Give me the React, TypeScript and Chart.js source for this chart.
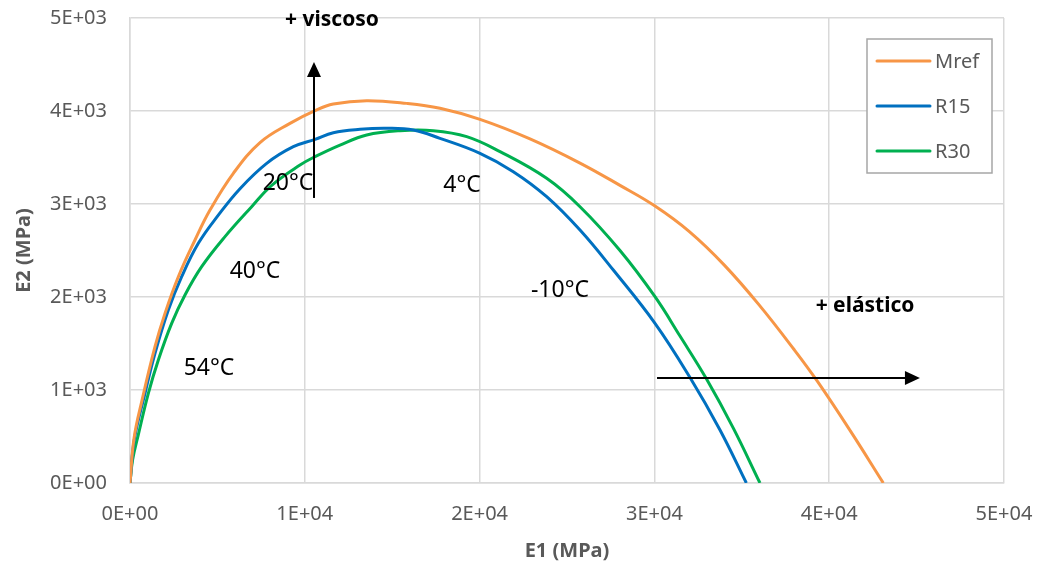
import React, { useEffect, useRef } from 'react';
import { Chart, registerables } from 'chart.js';

Chart.register(...registerables);

// Storage modulus E1 vs loss modulus E2 (MPa) for each mix
const mrefE1 = [0, 230, 700, 1430, 2002, 2765, 3719, 4577, 5912, 7437, 9153, 10584, 11632, 13539, 15829, 17735, 20023, 22883, 25744, 28032, 30034, 32000, 34000, 36000, 38000, 39300, 41200, 43095];
const mrefE2 = [0, 480, 900, 1466, 1824, 2218, 2613, 2935, 3330, 3660, 3867, 4004, 4075, 4111, 4082, 4029, 3910, 3700, 3440, 3200, 2978, 2703, 2343, 1913, 1433, 1100, 563, 0];

const r15E1 = [0, 250, 858, 1430, 2193, 2956, 3909, 5053, 6293, 7819, 9344, 10584, 11632, 13158, 14683, 16209, 17735, 20023, 21929, 23836, 25744, 27650, 30034, 32037, 33753, 35260];
const r15E2 = [0, 470, 964, 1394, 1860, 2218, 2577, 2880, 3165, 3437, 3616, 3695, 3767, 3803, 3814, 3796, 3706, 3545, 3348, 3079, 2720, 2290, 1717, 1134, 570, 0];

const r30E1 = [0, 150, 477, 1049, 1621, 2384, 3146, 4100, 5435, 6960, 8105, 9725, 10584, 12014, 13539, 15446, 17353, 19262, 21167, 23836, 25744, 28032, 30034, 31464, 32992, 34514, 36040];
const r30E2 = [0, 250, 520, 964, 1323, 1717, 2022, 2326, 2649, 2971, 3200, 3419, 3509, 3634, 3742, 3788, 3788, 3724, 3563, 3276, 2971, 2500, 2003, 1580, 1115, 590, 0];

const seriesNames = ['Mref', 'R15', 'R30'];
const seriesColors = ['#F79646', '#0070C0', '#00B050'];

const xTickLabels = ['0E+00', '1E+04', '2E+04', '3E+04', '4E+04', '5E+04'];
const yTickLabels = ['0E+00', '1E+03', '2E+03', '3E+03', '4E+03', '5E+03'];

// Temperature labels placed in data coordinates
const tempLabels = ['20°C', '4°C', '40°C', '-10°C', '54°C'];
const tempLabelE1 = [9039, 18993, 7151, 24600, 4519];
const tempLabelE2 = [3226, 3204, 2280, 2075, 1237];

const FONT = '"Noto Sans", "DejaVu Sans", sans-serif';
const GREY = '#595959';

const toPoints = (xs: number[], ys: number[]) => xs.map((x, i) => ({ x, y: ys[i] }));

const annotations = {
  id: 'annotations',
  afterDatasetsDraw(chart: any) {
    const { ctx, scales } = chart;
    const sx = scales.x;
    const sy = scales.y;
    ctx.save();

    // temperature labels
    ctx.fillStyle = '#000';
    ctx.font = `23px ${FONT}`;
    ctx.textAlign = 'center';
    ctx.textBaseline = 'middle';
    tempLabels.forEach((t, i) => {
      ctx.fillText(t, sx.getPixelForValue(tempLabelE1[i]), sy.getPixelForValue(tempLabelE2[i]));
    });

    // viscous arrow (upwards)
    const vx = sx.getPixelForValue(10526);
    const vy0 = sy.getPixelForValue(3065);
    const vy1 = sy.getPixelForValue(4527);
    ctx.strokeStyle = '#000';
    ctx.lineWidth = 2;
    ctx.beginPath();
    ctx.moveTo(vx, vy0);
    ctx.lineTo(vx, vy1 + 10);
    ctx.stroke();
    ctx.beginPath();
    ctx.moveTo(vx, vy1);
    ctx.lineTo(vx - 7, vy1 + 15);
    ctx.lineTo(vx + 7, vy1 + 15);
    ctx.closePath();
    ctx.fillStyle = '#000';
    ctx.fill();

    // elastic arrow (rightwards)
    const hy = sy.getPixelForValue(1129);
    const hx0 = sx.getPixelForValue(30150);
    const hx1 = sx.getPixelForValue(45190);
    ctx.beginPath();
    ctx.moveTo(hx0, hy);
    ctx.lineTo(hx1 - 10, hy);
    ctx.stroke();
    ctx.beginPath();
    ctx.moveTo(hx1, hy);
    ctx.lineTo(hx1 - 15, hy - 7);
    ctx.lineTo(hx1 - 15, hy + 7);
    ctx.closePath();
    ctx.fill();

    ctx.font = `bold 21px ${FONT}`;
    ctx.fillText('+ viscoso', sx.getPixelForValue(11556), sy.getPixelForValue(4978));
    ctx.fillText('+ elástico', sx.getPixelForValue(42048), sy.getPixelForValue(1903));
    ctx.restore();
  },
  afterDraw(chart: any) {
    const { ctx, chartArea } = chart;
    ctx.save();
    const left = chartArea.right - 137;
    const top = chartArea.top + 21;
    const w = 125;
    const h = 134;
    ctx.fillStyle = '#fff';
    ctx.fillRect(left, top, w, h);
    ctx.strokeStyle = '#a6a6a6';
    ctx.lineWidth = 1.5;
    ctx.strokeRect(left, top, w, h);
    ctx.font = `20px ${FONT}`;
    ctx.textBaseline = 'middle';
    ctx.textAlign = 'left';
    chart.data.datasets.forEach((ds: any, i: number) => {
      const yy = top + 22 + i * 45;
      ctx.strokeStyle = ds.borderColor;
      ctx.lineWidth = 3;
      ctx.lineCap = 'round';
      ctx.beginPath();
      ctx.moveTo(left + 10, yy);
      ctx.lineTo(left + 63, yy);
      ctx.stroke();
      ctx.fillStyle = GREY;
      ctx.fillText(ds.label, left + 68, yy + 1);
    });
    ctx.restore();
  },
};

export default function App() {
  const canvasRef = useRef<HTMLCanvasElement | null>(null);

  useEffect(() => {
    if (!canvasRef.current) return;
    const seriesX = [mrefE1, r15E1, r30E1];
    const seriesY = [mrefE2, r15E2, r30E2];
    const chart = new Chart(canvasRef.current, {
      type: 'scatter',
      data: {
        datasets: seriesNames.map((name, i) => ({
          label: name,
          data: toPoints(seriesX[i], seriesY[i]),
          showLine: true,
          borderColor: seriesColors[i],
          backgroundColor: seriesColors[i],
          borderWidth: 3,
          pointRadius: 0,
          tension: 0.4,
        })),
      },
      options: {
        responsive: false,
        animation: false,
        layout: { padding: { left: 0, right: 36, top: 18, bottom: 0 } },
        plugins: { legend: { display: false }, tooltip: { enabled: false } },
        scales: {
          x: {
            type: 'linear',
            min: 0,
            max: 50000,
            afterFit: (s: any) => {
              s.height = 84;
              s.paddingLeft = 0;
              s.paddingRight = 0;
            },
            ticks: {
              stepSize: 10000,
              padding: 19,
              color: GREY,
              font: { family: FONT, size: 20 },
              callback: (_v: any, i: number) => xTickLabels[i],
            },
            grid: { color: '#d9d9d9', lineWidth: 1.5, drawTicks: false },
            border: { color: '#d9d9d9', width: 1.5 },
            title: {
              display: true,
              text: 'E1 (MPa)',
              color: GREY,
              font: { family: FONT, size: 20, weight: 'bold' },
              padding: { top: 0, bottom: 4 },
            },
          },
          y: {
            type: 'linear',
            min: 0,
            max: 5000,
            afterFit: (s: any) => {
              s.width = 130;
              s.paddingTop = 0;
              s.paddingBottom = 0;
            },
            ticks: {
              stepSize: 1000,
              padding: 23,
              color: GREY,
              font: { family: FONT, size: 20 },
              callback: (_v: any, i: number) => yTickLabels[i],
            },
            grid: { color: '#d9d9d9', lineWidth: 1.5, drawTicks: false },
            border: { color: '#d9d9d9', width: 1.5 },
            title: {
              display: true,
              text: 'E2 (MPa)',
              color: GREY,
              font: { family: FONT, size: 20, weight: 'bold' },
              padding: { top: 12, bottom: 0 },
            },
          },
        },
      },
      plugins: [annotations],
    });
    return () => chart.destroy();
  }, []);

  return (
    <div style={{ position: 'fixed', left: 0, top: 0, background: '#fff' }}>
      <canvas ref={canvasRef} width={1040} height={567} style={{ display: 'block' }} />
    </div>
  );
}
